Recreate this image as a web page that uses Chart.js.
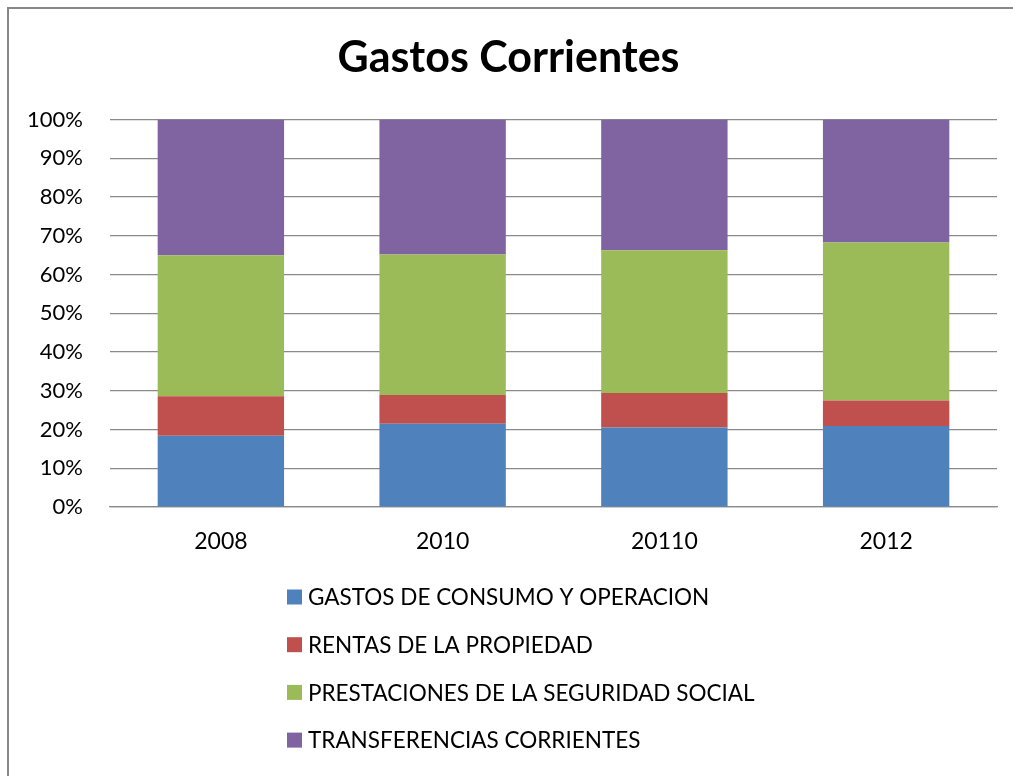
<!DOCTYPE html>
<html lang="es">

<head>
  <meta charset="UTF-8">
  <title>Gastos Corrientes</title>
  <script src="https://cdn.jsdelivr.net/npm/chart.js"></script>
  <style>
    html, body {
      margin: 0;
      padding: 0;
      background: #fff;
    }
    #wrap {
      width: 1013px;
      height: 776px;
      position: relative;
    }
  </style>
</head>

<body>
  <div id="wrap">
    <canvas id="gastos" width="1013" height="776"></canvas>
  </div>

  <script>
    const years = ['2008', '2010', '20110', '2012'];

    const gastosConsumo = [18.4, 21.5, 20.5, 20.9];
    const rentasPropiedad = [10.2, 7.4, 8.9, 6.6];
    const prestaciones = [36.4, 36.3, 36.9, 40.8];
    const transferencias = [35.0, 34.8, 33.7, 31.7];

    const seriesNames = [
      'GASTOS DE CONSUMO Y OPERACION',
      'RENTAS DE LA PROPIEDAD',
      'PRESTACIONES DE LA SEGURIDAD SOCIAL',
      'TRANSFERENCIAS CORRIENTES'
    ];
    const yTicks = [0, 10, 20, 30, 40, 50, 60, 70, 80, 90, 100];

    const colors = ['#4F81BD', '#C0504D', '#9BBB59', '#8064A2'];
    const gridGray = '#8a8a8a';
    const fontFamily = 'Lato, "Open Sans", sans-serif';

    // frame round the whole chart (only top/left edge falls in the picture)
    const framePlugin = {
      id: 'frame',
      beforeDraw(chart) {
        const c = chart.ctx;
        c.save();
        c.fillStyle = '#fff';
        c.fillRect(0, 0, chart.width, chart.height);
        c.strokeStyle = '#878787';
        c.lineWidth = 2;
        c.strokeRect(8, 8, chart.width + 10, chart.height + 10);
        c.restore();
      }
    };

    // vertical legend under the axis, one item per line
    const columnLegend = {
      id: 'columnLegend',
      afterDraw(chart) {
        const c = chart.ctx;
        const x0 = 287;
        const y0 = 597;
        const step = 47.7;
        c.save();
        c.font = '22.5px ' + fontFamily;
        c.textBaseline = 'middle';
        c.textAlign = 'left';
        chart.data.datasets.forEach((ds, i) => {
          const y = y0 + i * step;
          c.fillStyle = ds.backgroundColor;
          c.fillRect(x0, y - 7.5, 15, 15);
          c.fillStyle = '#000';
          c.fillText(ds.label, x0 + 21, y + 1);
        });
        c.restore();
      }
    };

    const seriesData = [gastosConsumo, rentasPropiedad, prestaciones, transferencias];

    const ctx = document.getElementById('gastos').getContext('2d');

    const chart = new Chart(ctx, {
      type: 'bar',
      data: {
        labels: years,
        datasets: seriesData.map((d, i) => ({
          label: seriesNames[i],
          data: d,
          backgroundColor: colors[i],
          borderWidth: 0,
          categoryPercentage: 1,
          barPercentage: 0.57
        }))
      },
      options: {
        responsive: false,
        animation: false,
        layout: {
          padding: { left: 20, right: 16, top: 0, bottom: 200 }
        },
        scales: {
          x: {
            stacked: true,
            grid: { display: false },
            border: { display: true, color: gridGray, width: 1.2 },
            ticks: {
              color: '#000',
              padding: 13,
              font: { family: fontFamily, size: 23 }
            },
            afterFit(scale) {
              scale.height = 69;
            }
          },
          y: {
            stacked: true,
            min: 0,
            max: 100,
            border: { display: false },
            grid: {
              color: gridGray,
              lineWidth: 1.2,
              drawTicks: false
            },
            afterBuildTicks(scale) {
              scale.ticks = yTicks.map(v => ({ value: v }));
            },
            ticks: {
              color: '#000',
              padding: 27,
              font: { family: fontFamily, size: 22 },
              callback: v => v + '%'
            },
            afterFit(scale) {
              scale.width = 90;
            }
          }
        },
        plugins: {
          legend: { display: false },
          tooltip: { enabled: false },
          title: {
            display: true,
            text: 'Gastos Corrientes',
            color: '#000',
            font: { family: fontFamily, size: 43, weight: 'bold' },
            padding: { top: 32, bottom: 36 }
          }
        }
      },
      plugins: [framePlugin, columnLegend]
    });
  </script>
</body>

</html>
